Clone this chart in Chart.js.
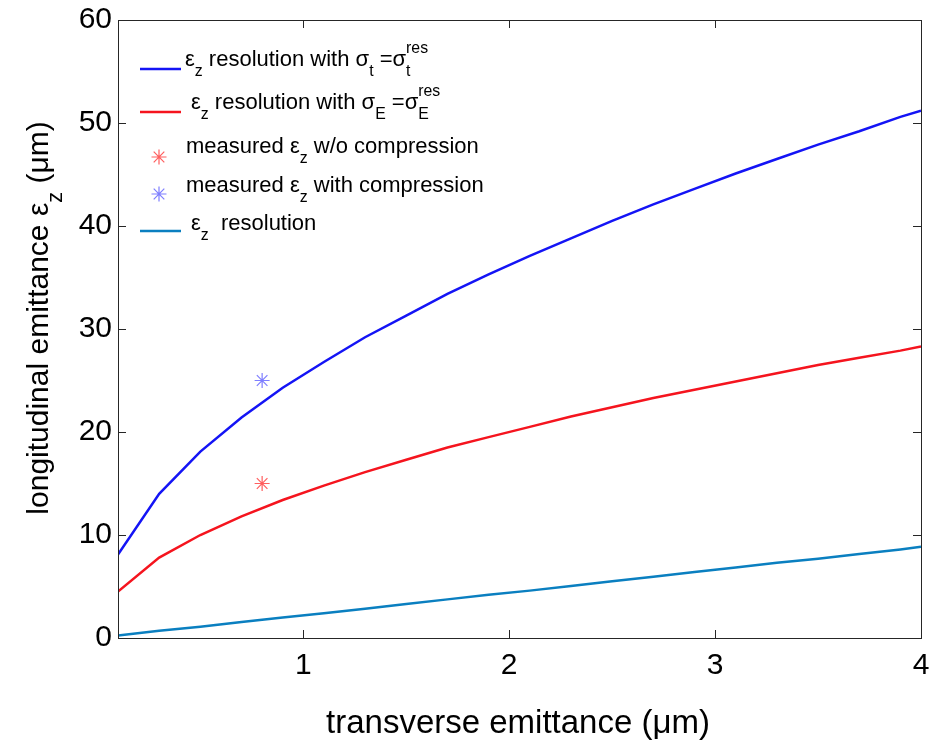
<!DOCTYPE html>
<html><head><meta charset="utf-8">
<script src="https://cdn.jsdelivr.net/npm/chart.js@4.4.1/dist/chart.umd.min.js"></script>
<style>html,body{margin:0;padding:0;background:#fff}</style>
</head><body>
<canvas id="c" width="936" height="743"></canvas>
<script>
// ---- data ----
const xValues = [0.1,0.3,0.5,0.7,0.9,1.1,1.3,1.5,1.7,1.9,2.1,2.3,2.5,2.7,2.9,3.1,3.3,3.5,3.7,3.9,4.0];
const resTimeValues = [8.1,14.0,18.1,21.4,24.3,26.8,29.2,31.3,33.4,35.3,37.1,38.8,40.5,42.1,43.6,45.1,46.5,47.9,49.2,50.6,51.2];
const resEnergyValues = [4.5,7.8,10.0,11.8,13.4,14.8,16.1,17.3,18.5,19.5,20.5,21.5,22.4,23.3,24.1,24.9,25.7,26.5,27.2,27.9,28.3];
const resValues = [0.25,0.7,1.1,1.55,2.0,2.4,2.85,3.3,3.75,4.2,4.6,5.05,5.5,5.95,6.4,6.85,7.3,7.7,8.15,8.6,8.85];
const measuredX = [0.8];
const measuredNoCompression = [15];
const measuredWithCompression = [25];
const xTickValues = [1,2,3,4];
const yTickValues = [0,10,20,30,40,50,60];

const FONT = "'Liberation Sans', Arial, Helvetica, sans-serif";
const BLUE = '#1414f5', RED = '#f5141e', CYAN = '#0a7fc0';
const STAR_RED = 'rgba(255,40,40,0.75)', STAR_BLUE = 'rgba(40,40,255,0.6)';

function pts(xs, ys){ return xs.map((x,i)=>({x:x, y:ys[i]})); }

function richWidth(ctx, parts, fs){
  let w = 0;
  for (const p of parts){
    if (p.sup !== undefined){
      ctx.font = (fs*0.72)+'px '+FONT;
      w += Math.max(ctx.measureText(p.sup).width, ctx.measureText(p.sub).width);
    } else {
      ctx.font = (p.sub ? fs*0.72 : fs)+'px '+FONT;
      w += ctx.measureText(p.t).width;
    }
  }
  return w;
}
function drawRich(ctx, parts, x, y, fs){
  ctx.textBaseline = 'alphabetic';
  ctx.textAlign = 'left';
  for (const p of parts){
    if (p.sup !== undefined){
      ctx.font = (fs*0.72)+'px '+FONT;
      ctx.fillText(p.sup, x, y - fs*0.58);
      ctx.fillText(p.sub, x, y + fs*0.45);
      x += Math.max(ctx.measureText(p.sup).width, ctx.measureText(p.sub).width);
    } else if (p.sub){
      ctx.font = (fs*0.72)+'px '+FONT;
      ctx.fillText(p.t, x, y + fs*0.45);
      x += ctx.measureText(p.t).width;
    } else {
      ctx.font = fs+'px '+FONT;
      ctx.fillText(p.t, x, y);
      x += ctx.measureText(p.t).width;
    }
  }
}
function drawStar(ctx, x, y, r, color){
  ctx.save();
  ctx.strokeStyle = color; ctx.lineWidth = 1.2;
  ctx.beginPath();
  for (let k=0;k<4;k++){
    const a = k*Math.PI/4;
    ctx.moveTo(x - r*Math.cos(a), y - r*Math.sin(a));
    ctx.lineTo(x + r*Math.cos(a), y + r*Math.sin(a));
  }
  ctx.stroke();
  ctx.restore();
}

const decorPlugin = {
  id: 'decor',
  afterDraw(chart){
    const ctx = chart.ctx, a = chart.chartArea;
    const xs = chart.scales.x, ys = chart.scales.y;
    ctx.save();
    ctx.strokeStyle = '#262626'; ctx.lineWidth = 1;
    ctx.strokeRect(Math.round(a.left)+0.5, Math.round(a.top)+0.5, Math.round(a.right-a.left), Math.round(a.bottom-a.top));
    const TL = 8;
    ctx.beginPath();
    for (const v of xTickValues){
      const px = Math.round(xs.getPixelForValue(v))+0.5;
      ctx.moveTo(px, a.bottom); ctx.lineTo(px, a.bottom-TL);
      ctx.moveTo(px, a.top); ctx.lineTo(px, a.top+TL);
    }
    for (const v of yTickValues){
      const py = Math.round(ys.getPixelForValue(v))+0.5;
      ctx.moveTo(a.left, py); ctx.lineTo(a.left+TL, py);
      ctx.moveTo(a.right, py); ctx.lineTo(a.right-TL, py);
    }
    ctx.stroke();

    ctx.fillStyle = '#000';
    const xt = [{t:'transverse emittance (μm)'}];
    const wx = richWidth(ctx, xt, 33);
    drawRich(ctx, xt, 518 - wx/2, 733, 33);

    const yt = [{t:'longitudinal emittance ε'},{t:'z',sub:true},{t:' (μm)'}];
    const wy = richWidth(ctx, yt, 30);
    ctx.save();
    ctx.translate(48, 318);
    ctx.rotate(-Math.PI/2);
    drawRich(ctx, yt, -wy/2, 0, 30);
    ctx.restore();

    const fsL = 22;
    const rows = [
      {kind:'line', color:BLUE, y:69, tx:185, tb:66, parts:[{t:'ε'},{t:'z',sub:true},{t:' resolution with σ'},{t:'t',sub:true},{t:' =σ'},{sup:'res',sub:'t'}]},
      {kind:'line', color:RED, y:112, tx:191, tb:109, parts:[{t:'ε'},{t:'z',sub:true},{t:' resolution with σ'},{t:'E',sub:true},{t:' =σ'},{sup:'res',sub:'E'}]},
      {kind:'star', color:STAR_RED, y:157, tx:186, tb:153, parts:[{t:'measured ε'},{t:'z',sub:true},{t:' w/o compression'}]},
      {kind:'star', color:STAR_BLUE, y:194, tx:186, tb:192, parts:[{t:'measured ε'},{t:'z',sub:true},{t:' with compression'}]},
      {kind:'line', color:CYAN, y:231, tx:191, tb:230, parts:[{t:'ε'},{t:'z',sub:true},{t:'  resolution'}]}
    ];
    for (const r of rows){
      if (r.kind==='line'){
        ctx.strokeStyle = r.color; ctx.lineWidth = 2.5;
        ctx.beginPath(); ctx.moveTo(140, r.y); ctx.lineTo(181, r.y); ctx.stroke();
      } else {
        drawStar(ctx, 159, r.y, 7.5, r.color);
      }
      ctx.fillStyle = '#000';
      drawRich(ctx, r.parts, r.tx, r.tb, fsL);
    }
    ctx.restore();
  }
};

const ctx = document.getElementById('c').getContext('2d');
new Chart(ctx, {
  type: 'line',
  data: {
    datasets: [
      {label:'εz resolution with σt=σt res', data: pts(xValues, resTimeValues), borderColor: BLUE, borderWidth: 2.5, pointRadius: 0, fill:false, tension:0},
      {label:'εz resolution with σE=σE res', data: pts(xValues, resEnergyValues), borderColor: RED, borderWidth: 2.5, pointRadius: 0, fill:false, tension:0},
      {label:'measured εz w/o compression', data: pts(measuredX, measuredNoCompression), showLine:false, pointStyle:'star', pointRadius:7.5, borderColor: STAR_RED, backgroundColor: STAR_RED, pointBorderWidth:1.2},
      {label:'measured εz with compression', data: pts(measuredX, measuredWithCompression), showLine:false, pointStyle:'star', pointRadius:7.5, borderColor: STAR_BLUE, backgroundColor: STAR_BLUE, pointBorderWidth:1.2},
      {label:'εz resolution', data: pts(xValues, resValues), borderColor: CYAN, borderWidth: 2.5, pointRadius: 0, fill:false, tension:0}
    ]
  },
  options: {
    responsive: false,
    animation: false,
    devicePixelRatio: 1,
    layout: {padding: {top: 20, right: 15, left: 0, bottom: 0}},
    plugins: {legend: {display:false}, tooltip: {enabled:false}},
    scales: {
      x: {
        type: 'linear', min: 0.1, max: 4,
        afterBuildTicks: s => { s.ticks = xTickValues.map(v => ({value: v})); },
        afterFit: s => { s.height = 105; s.paddingLeft = 0; s.paddingRight = 0; },
        grid: {display:false, drawTicks:false},
        border: {display:false},
        ticks: {color:'#000', font:{family:FONT, size:30}, padding: 10, maxRotation:0, callback: v => String(v)}
      },
      y: {
        type: 'linear', min: 0, max: 60,
        afterBuildTicks: s => { s.ticks = yTickValues.map(v => ({value: v})); },
        afterFit: s => { s.width = 118; s.paddingTop = 0; s.paddingBottom = 0; },
        grid: {display:false, drawTicks:false},
        border: {display:false},
        ticks: {color:'#000', font:{family:FONT, size:30}, padding: 6, callback: v => String(v)}
      }
    }
  },
  plugins: [decorPlugin]
});
</script>
</body></html>
